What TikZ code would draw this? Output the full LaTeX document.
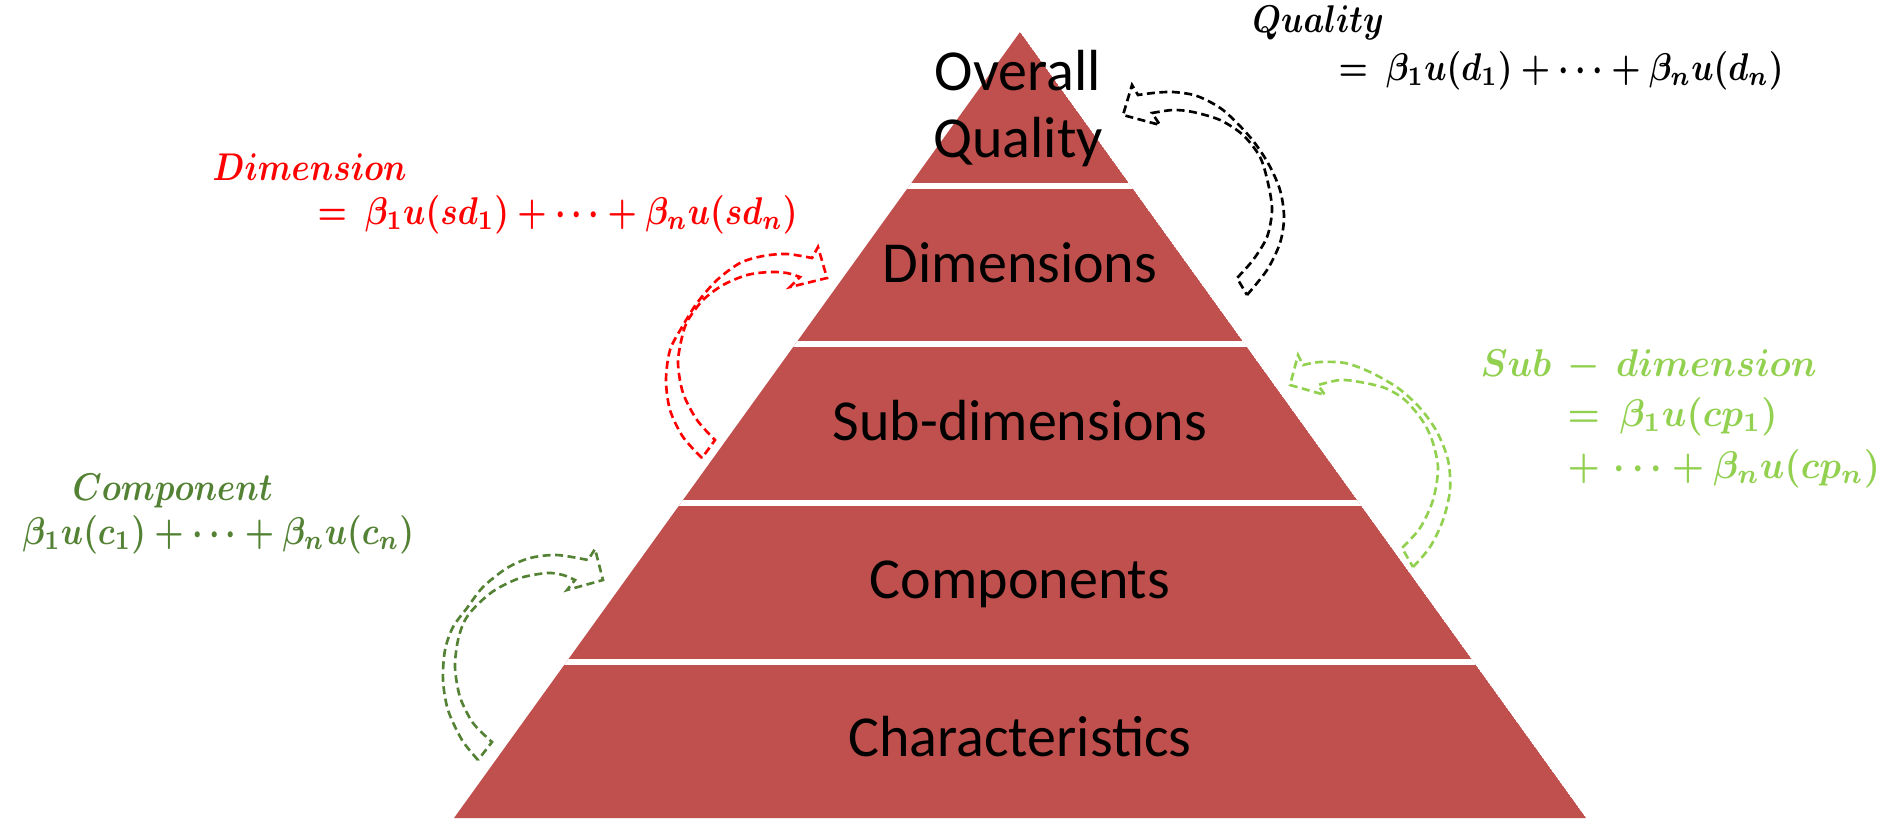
\documentclass[tikz,border=0pt]{standalone}
\usepackage[no-math]{fontspec}
\setmainfont{Carlito}
\usepackage{amsmath}
\definecolor{pyrred}{HTML}{C0504D}
\definecolor{dimred}{HTML}{FF0000}
\definecolor{subgreen}{HTML}{92D050}
\definecolor{compgreen}{HTML}{548235}
\newcommand{\eqbox}[2][0.935]{\scalebox{#1}[1.1]{\boldmath$#2$}}

\begin{document}
\begin{tikzpicture}[x=0.1mm, y=-0.1mm,
  lvl/.style={anchor=base, inner sep=0pt, font=\fontsize{16.5}{20}\selectfont},
  eqn/.style={anchor=base west, inner sep=0pt, font=\fontsize{10}{12}\selectfont},
  band/.style={dash pattern=on 0.8mm off 0.45mm, line width=0.75pt, line join=miter}]
\useasboundingbox (0,0) rectangle (1884,818);
\coordinate (top) at (1020,32);
\coordinate (bl) at (454,818);
\coordinate (br) at (1586,818);
\begin{scope}
\clip (top) -- (bl) -- (br) -- cycle;
\fill[pyrred] (top) -- (bl) -- (br) -- cycle;
\foreach \y in {186,344,503,662}
  \draw[white, line width=0.6mm] (400,\y) -- (1640,\y);
\end{scope}
\node[lvl] (ovr) at (1018,90) {Overall};
\node[lvl] (qual) at (1018,157) {Quality};
\node[lvl] (dims) at (1020,282) {Dimensions};
\node[lvl] (subdims) at (1020,440) {Sub-dimensions};
\node[lvl] (comps) at (1020,598) {Components};
\node[lvl] (chars) at (1020,756) {Characteristics};
\node[eqn] (qt) at (1252,32) {\eqbox{Quality}};
\node[eqn] (qe) at (1338,80) {\eqbox{=\ \beta_1u(d_1)+\cdots+\beta_nu(d_n)}};
\node[eqn, dimred] (dt) at (212,180) {\eqbox{Dimension}};
\node[eqn, dimred] (de) at (317,224) {\eqbox{=\ \beta_1u(sd_1)+\cdots+\beta_nu(sd_n)}};
\node[eqn, subgreen] (st) at (1480,376) {\eqbox[1.03]{Sub\,-\,dimension}};
\node[eqn, subgreen] (se) at (1567,426) {\eqbox[1.03]{=\ \beta_1u(cp_1)}};
\node[eqn, subgreen] (sf) at (1567,478) {\eqbox[1.03]{+\,\cdots+\beta_nu(cp_n)}};
\node[eqn, compgreen] (ct) at (72,500) {\eqbox{Component}};
\node[eqn, compgreen] (ce) at (22,544) {\eqbox{\beta_1u(c_1)+\cdots+\beta_nu(c_n)}};
\draw[band] plot[smooth] coordinates {(1247,295) (1267,270) (1280,243) (1284,217) (1280,190) (1268,163) (1250,137) (1223,110) (1197,96) (1173,92) (1153,93) (1138,95)}
  -- (1132,85) -- (1123,115) -- (1160,125)
  -- plot[smooth] coordinates {(1152,113) (1173,110) (1193,112) (1220,120) (1243,135) (1260,157) (1268,183) (1272,210) (1267,237) (1253,260) (1237,278)} -- cycle;
\draw[band, dimred] plot[smooth] coordinates {(702,458) (683,437) (670,410) (666,380) (670,350) (682,327) (697,303) (717,280) (740,263) (763,256) (787,254) (812,258)}
  -- (818,247) -- (827,278) -- (790,287)
  -- plot[smooth] coordinates {(800,277) (787,273) (770,272) (747,275) (723,285) (703,300) (688,320) (682,337) (678,363) (683,393) (697,420) (715,440)} -- cycle;
\draw[band, subgreen] plot[smooth] coordinates {(1413,567) (1430,547) (1443,520) (1450,490) (1448,460) (1437,432) (1420,408) (1398,388) (1370,372) (1345,363) (1320,362) (1303,365)}
  -- (1298,355) -- (1290,385) -- (1325,395)
  -- plot[smooth] coordinates {(1318,385) (1340,380) (1360,382) (1385,388) (1405,400) (1422,420) (1432,440) (1438,468) (1433,500) (1420,528) (1402,548)} -- cycle;
\draw[band, compgreen] plot[smooth] coordinates {(478,760) (462,740) (448,710) (443,680) (445,650) (453,627) (467,608) (483,587) (507,568) (530,558) (557,555) (588,560)}
  -- (595,549) -- (603,580) -- (567,590)
  -- plot[smooth] coordinates {(575,580) (563,575) (547,573) (520,578) (495,590) (477,605) (465,620) (458,640) (455,667) (460,697) (473,723) (492,742)} -- cycle;
\end{tikzpicture}
\end{document}
